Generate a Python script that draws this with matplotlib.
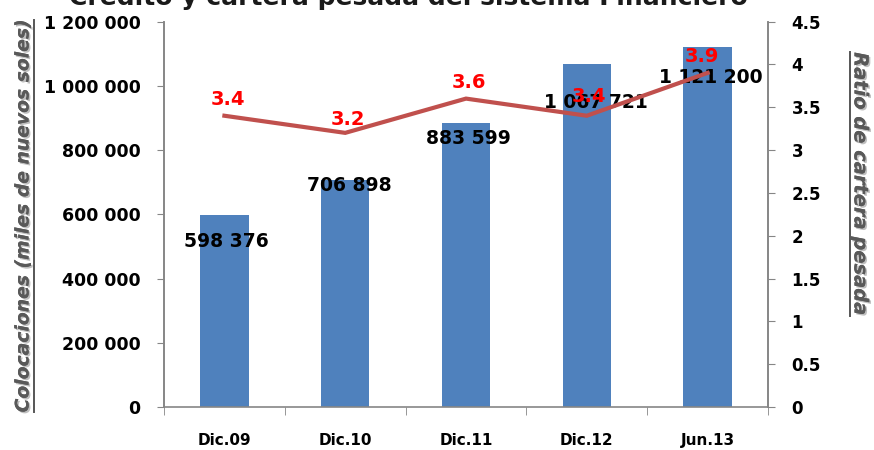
import matplotlib
matplotlib.use("Agg")
import matplotlib.pyplot as plt
import matplotlib.patheffects as pe
from matplotlib.lines import Line2D
from matplotlib.ticker import FuncFormatter, MultipleLocator
import numpy as np

# data
periodos = ["Dic.09", "Dic.10", "Dic.11", "Dic.12", "Jun.13"]
colocaciones = [598376, 706898, 883599, 1067721, 1121200]
ratio_cartera = [3.4, 3.2, 3.6, 3.4, 3.9]

# label offsets in pixels (layout only)
bar_lbl_dx = [2, 4, 2, 9, 3]
bar_lbl_dy = [-27, -6, -15, -39, -31]
ratio_lbl_dx = [4, 3, 3, 2, -6]
ratio_lbl_dy = [16, 13, 16, 19, 16]

BLUE = "#4F81BD"
RED = "#C0504D"
GRAY = "#868686"

plt.rcParams["font.family"] = "DejaVu Sans"
plt.rcParams["font.weight"] = "bold"

fig = plt.figure(figsize=(8.74, 4.5), dpi=100)
ax = fig.add_axes([164 / 874, 1 - 407 / 450, 604 / 874, 385.5 / 450])
ax2 = ax.twinx()

x = np.arange(len(periodos))
ax.bar(x, colocaciones, width=0.4, color=BLUE, zorder=2)
ax2.plot(x, ratio_cartera, color=RED, lw=3, solid_joinstyle="miter", zorder=3)

ax.set_xlim(-0.5, len(periodos) - 0.5)
ax.set_ylim(0, 1200000)
ax2.set_ylim(0, 4.5)
ax.yaxis.set_major_locator(MultipleLocator(200000))
ax2.yaxis.set_major_locator(MultipleLocator(0.5))
ax.yaxis.set_major_formatter(FuncFormatter(lambda v, p: f"{int(v):,}".replace(",", " ")))
ax2.yaxis.set_major_formatter(FuncFormatter(lambda v, p: f"{v:g}"))

ax.set_xticks(x)
ax.set_xticklabels(periodos, fontsize=11, fontweight="bold")
ax.set_xticks(np.arange(len(periodos) + 1) - 0.5, minor=True)
ax.tick_params(axis="x", which="major", length=0, pad=19)
ax.tick_params(axis="x", which="minor", length=6, color=GRAY, direction="out")
ax.tick_params(axis="y", length=5, color=GRAY, pad=12, labelsize=12.5)
ax2.tick_params(axis="y", length=5, color=GRAY, pad=12, labelsize=12)
for t in ax.get_yticklabels() + ax2.get_yticklabels():
    t.set_fontweight("bold")

for a in (ax, ax2):
    a.spines["top"].set_visible(False)
    for s in ("left", "right", "bottom"):
        a.spines[s].set_color(GRAY)
        a.spines[s].set_linewidth(1.2)
ax2.spines["bottom"].set_visible(False)

# bar labels
for i, v in enumerate(colocaciones):
    ax.annotate(f"{v:,}".replace(",", " "), (x[i], v), xytext=(bar_lbl_dx[i] * 0.72, bar_lbl_dy[i] * 0.72),
                textcoords="offset points", ha="center", va="center",
                fontsize=13.5, fontweight="bold", color="black", zorder=5)

# ratio labels
for i, v in enumerate(ratio_cartera):
    ax2.annotate(f"{v:g}", (x[i], v), xytext=(ratio_lbl_dx[i] * 0.72, ratio_lbl_dy[i] * 0.72),
                 textcoords="offset points", ha="center", va="center",
                 fontsize=14, fontweight="bold", color="red", zorder=6)

fig.text(408 / 874, 1 - 5 / 450, "Crédito y cartera pesada del sistema Financiero",
         ha="center", va="baseline", fontsize=18, fontweight="bold", color="#1a1a1a")

shadow = [pe.withSimplePatchShadow(offset=(1.2, -1.2), shadow_rgbFace="#b0b0b0", alpha=0.8), pe.Normal()]
ylab_l = fig.text(23 / 874, 1 - 216 / 450, "Colocaciones (miles de nuevos soles)", rotation=90,
                  ha="center", va="center", fontsize=13.5, style="italic", fontweight="bold",
                  color="#595959", path_effects=shadow)
ylab_r = fig.text(860 / 874, 1 - 184 / 450, "Ratio de cartera pesada", rotation=270,
                  ha="center", va="center", fontsize=14, style="italic", fontweight="bold",
                  color="#595959", path_effects=shadow)

# underline the axis titles
fig.canvas.draw()
r = fig.canvas.get_renderer()
W, H = fig.bbox.width, fig.bbox.height
bb = ylab_l.get_window_extent(r)
fig.add_artist(Line2D([(bb.x1 + 1) / W] * 2, [bb.y0 / H, bb.y1 / H], color="#595959", lw=1.3,
                      path_effects=shadow))
bb = ylab_r.get_window_extent(r)
fig.add_artist(Line2D([(bb.x0 - 1) / W] * 2, [bb.y0 / H, bb.y1 / H], color="#595959", lw=1.3,
                      path_effects=shadow))

fig.savefig("out.png", dpi=100)
